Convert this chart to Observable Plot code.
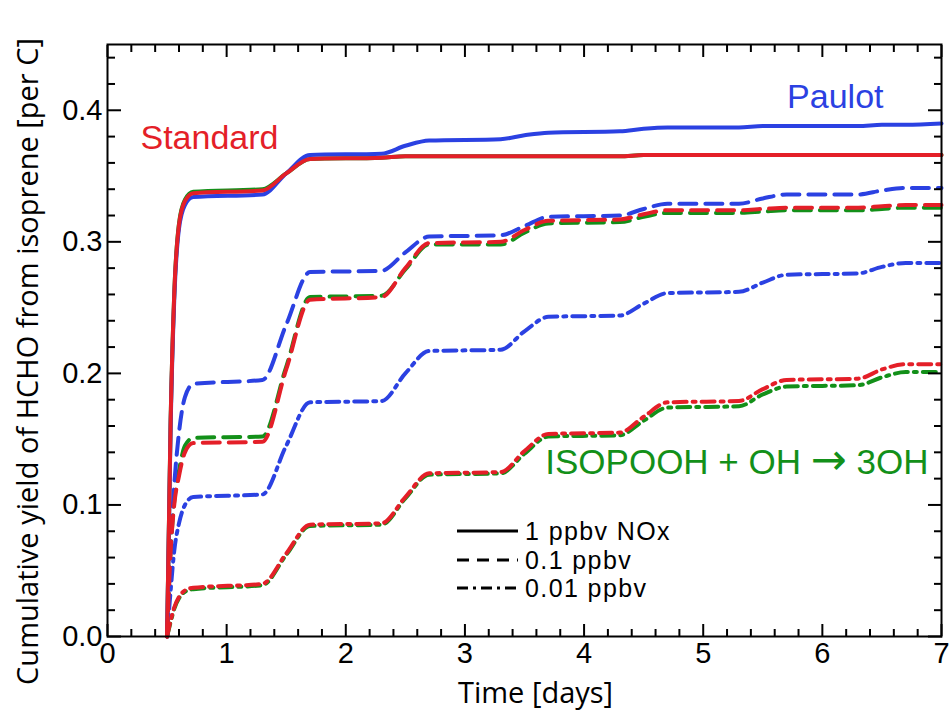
<!DOCTYPE html>
<html><head><meta charset="utf-8">
<script src="https://cdn.jsdelivr.net/npm/d3@7"></script>
<script src="https://cdn.jsdelivr.net/npm/@observablehq/plot@0.6"></script>
<style>
body{margin:0;background:#fff;}
#wrap{position:relative;width:952px;height:720px;}
#legend{position:absolute;left:0;top:0;pointer-events:none;}
</style></head><body><div id="wrap"></div>
<script>
// time in days
const time = [0.5,0.53,0.56,0.6,0.65,0.72,1.3,1.5,1.7,2.3,2.5,2.7,3.3,3.5,3.7,4.3,4.5,4.7,5.3,5.5,5.7,6.3,6.5,6.7,7.0];

// Cumulative HCHO yield, per mechanism and NOx level
const paulot_1    = [0,0.16,0.255,0.31,0.328,0.334, 0.336,0.352,0.366, 0.367,0.373,0.377, 0.378,0.381,0.383, 0.384,0.386,0.387, 0.387,0.388,0.388, 0.388,0.389,0.389, 0.390];
const standard_1  = [0,0.165,0.26,0.313,0.331,0.337, 0.339,0.352,0.363, 0.364,0.365,0.365, 0.365,0.365,0.365, 0.365,0.366,0.366, 0.366,0.366,0.366, 0.366,0.366,0.366, 0.366];
const isopooh_1   = [0,0.165,0.26,0.314,0.332,0.338, 0.340,0.352,0.363, 0.364,0.365,0.365, 0.365,0.365,0.365, 0.365,0.366,0.366, 0.366,0.366,0.366, 0.366,0.366,0.366, 0.366];

const paulot_01   = [0,0.07,0.115,0.155,0.182,0.192, 0.195,0.237,0.277, 0.278,0.292,0.304, 0.305,0.312,0.319, 0.320,0.325,0.329, 0.329,0.333,0.336, 0.336,0.339,0.341, 0.341];
const standard_01 = [0,0.065,0.10,0.122,0.140,0.147, 0.148,0.203,0.256, 0.258,0.280,0.299, 0.300,0.309,0.316, 0.317,0.321,0.324, 0.324,0.325,0.326, 0.326,0.327,0.328, 0.328];
const isopooh_01  = [0,0.065,0.103,0.126,0.145,0.151, 0.152,0.205,0.258, 0.259,0.279,0.298, 0.298,0.307,0.314, 0.315,0.319,0.322, 0.322,0.323,0.324, 0.324,0.325,0.326, 0.326];

const paulot_001  = [0,0.035,0.065,0.086,0.100,0.106, 0.108,0.145,0.178, 0.179,0.200,0.217, 0.218,0.232,0.243, 0.244,0.253,0.261, 0.262,0.269,0.275, 0.276,0.281,0.284, 0.284];
const standard_001= [0,0.012,0.022,0.030,0.035,0.037, 0.040,0.063,0.085, 0.086,0.106,0.124, 0.125,0.141,0.154, 0.155,0.167,0.178, 0.179,0.188,0.195, 0.196,0.203,0.207, 0.207];
const isopooh_001 = [0,0.011,0.021,0.029,0.034,0.036, 0.039,0.062,0.084, 0.085,0.105,0.123, 0.124,0.139,0.152, 0.153,0.164,0.174, 0.175,0.184,0.190, 0.191,0.197,0.201, 0.201];

const mechanismLabels = ["Standard", "Paulot", "ISOPOOH + OH → 3OH"];
const noxLabels = ["1 ppbv NOx", "0.1 ppbv", "0.01 ppbv"];
const xTicks = [0,1,2,3,4,5,6,7];
const yTicks = [0.0,0.1,0.2,0.3,0.4];
const xTitle = "Time [days]";
const yTitle = "Cumulative yield of HCHO from isoprene [per C]";

const colors = {Standard:"#e41f28", Paulot:"#2b41e2", ISOPOOH:"#139019"};
const dashes = {"1":undefined, "0.1":"17,9", "0.01":"13,6,3,6"};

const series = [
  {mech:"ISOPOOH", nox:"0.01", values:isopooh_001},
  {mech:"ISOPOOH", nox:"0.1", values:isopooh_01},
  {mech:"ISOPOOH", nox:"1", values:isopooh_1},
  {mech:"Paulot", nox:"0.01", values:paulot_001},
  {mech:"Paulot", nox:"0.1", values:paulot_01},
  {mech:"Paulot", nox:"1", values:paulot_1},
  {mech:"Standard", nox:"0.01", values:standard_001},
  {mech:"Standard", nox:"0.1", values:standard_01},
  {mech:"Standard", nox:"1", values:standard_1}
];

const xMinor = d3.range(0, 7.001, 0.2).map(v => +v.toFixed(1)).filter(v => !Number.isInteger(v));
const yMinor = d3.range(0, 0.4501, 0.02).map(v => +v.toFixed(2)).filter(v => Math.abs(v*10 - Math.round(v*10)) > 1e-6);

const lineMarks = series.map(s => Plot.line(time.map((t,i)=>({t, v:s.values[i]})), {
  x:"t", y:"v", stroke: colors[s.mech], strokeWidth: 4, strokeDasharray: dashes[s.nox], curve:"monotone-x"
}));

const SANS = "'Liberation Sans', Arial, sans-serif";
const tickFont = {fontFamily:SANS, fontSize:29};
const blank = () => "";

const chart = Plot.plot({
  width: 952, height: 720,
  marginLeft: 107, marginRight: 11, marginTop: 44, marginBottom: 84,
  style: {background:"#fff", color:"black", fontFamily:SANS},
  x: {domain:[0,7]},
  y: {domain:[0,0.45]},
  marks: [
    ...lineMarks,
    Plot.frame({stroke:"black", strokeWidth:2}),
    Plot.axisX(xTicks, {anchor:"bottom", tickSize:-12, tickPadding:18, tickFormat:d3.format("d"), strokeWidth:2, label:null, ...tickFont}),
    Plot.axisX(xMinor, {anchor:"bottom", tickSize:-7, tickFormat:blank, strokeWidth:2, label:null}),
    Plot.axisX(xTicks, {anchor:"top", tickSize:-12, tickFormat:blank, strokeWidth:2, label:null}),
    Plot.axisX(xMinor, {anchor:"top", tickSize:-7, tickFormat:blank, strokeWidth:2, label:null}),
    Plot.axisY(yTicks, {anchor:"left", tickSize:-14, tickPadding:19, tickFormat:d3.format(".1f"), strokeWidth:2, label:null, ...tickFont}),
    Plot.axisY(yMinor, {anchor:"left", tickSize:-8, tickFormat:blank, strokeWidth:2, label:null}),
    Plot.axisY(yTicks, {anchor:"right", tickSize:-14, tickFormat:blank, strokeWidth:2, label:null}),
    Plot.axisY(yMinor, {anchor:"right", tickSize:-8, tickFormat:blank, strokeWidth:2, label:null}),
    Plot.text([xTitle], {text:d=>d, frameAnchor:"bottom", dx:11, dy:57, textAnchor:"middle", lineAnchor:"middle", fontSize:29, fontFamily:"'Open Sans', sans-serif", fill:"black"}),
    Plot.text([yTitle], {text:d=>d, frameAnchor:"left", dx:-79, dy:21, rotate:-90, textAnchor:"middle", lineAnchor:"middle", fontSize:29, fontFamily:"'Open Sans', sans-serif", fill:"black"}),
    Plot.text([mechanismLabels[0]], {text:d=>d, frameAnchor:"top-left", dx:33, dy:94, textAnchor:"start", lineAnchor:"middle", fontSize:34, fontFamily:SANS, fill:colors.Standard}),
    Plot.text([mechanismLabels[1]], {text:d=>d, frameAnchor:"top-right", dx:-58, dy:53, textAnchor:"end", lineAnchor:"middle", fontSize:34, fontFamily:SANS, fill:colors.Paulot}),
    Plot.text([mechanismLabels[2]], {text:d=>d, frameAnchor:"top-right", dx:-13, dy:418, textAnchor:"end", lineAnchor:"middle", fontSize:35, fontFamily:SANS, fill:colors.ISOPOOH})
  ]
});
const wrap = document.getElementById("wrap");
wrap.appendChild(chart);

// render the arrow glyph of the ISOPOOH label in a font with a bolder, wider arrow
d3.select(chart).selectAll("text").each(function() {
  const el = this;
  if (el.textContent === mechanismLabels[2]) {
    const parts = mechanismLabels[2].split("→");
    el.textContent = "";
    const ns = "http://www.w3.org/2000/svg";
    const a = document.createElementNS(ns, "tspan"); a.textContent = parts[0];
    const b = document.createElementNS(ns, "tspan"); b.textContent = "→";
    b.setAttribute("font-family", "'DejaVu Sans'"); b.setAttribute("font-size", "43");
    const c = document.createElementNS(ns, "tspan"); c.textContent = parts[1];
    el.appendChild(a); el.appendChild(b); el.appendChild(c);
  }
});

// legend overlay for line styles
const ns = "http://www.w3.org/2000/svg";
const leg = document.createElementNS(ns, "svg");
leg.setAttribute("id", "legend");
leg.setAttribute("width", 952); leg.setAttribute("height", 720);
const legDash = [undefined, "12,8", "11,5,3,5"];
const legY = [531, 560, 588];
noxLabels.forEach((lab, i) => {
  const l = document.createElementNS(ns, "line");
  l.setAttribute("x1", 457); l.setAttribute("x2", 518);
  l.setAttribute("y1", legY[i]); l.setAttribute("y2", legY[i]);
  l.setAttribute("stroke", "black"); l.setAttribute("stroke-width", 3);
  if (legDash[i]) l.setAttribute("stroke-dasharray", legDash[i]);
  leg.appendChild(l);
  const t = document.createElementNS(ns, "text");
  t.setAttribute("x", 525); t.setAttribute("y", legY[i]);
  t.setAttribute("dy", "0.35em");
  t.setAttribute("style", "font-family:'Liberation Sans', Arial, sans-serif;font-size:25px;letter-spacing:1.4px");
  t.textContent = lab;
  leg.appendChild(t);
});
wrap.appendChild(leg);
</script></body></html>
